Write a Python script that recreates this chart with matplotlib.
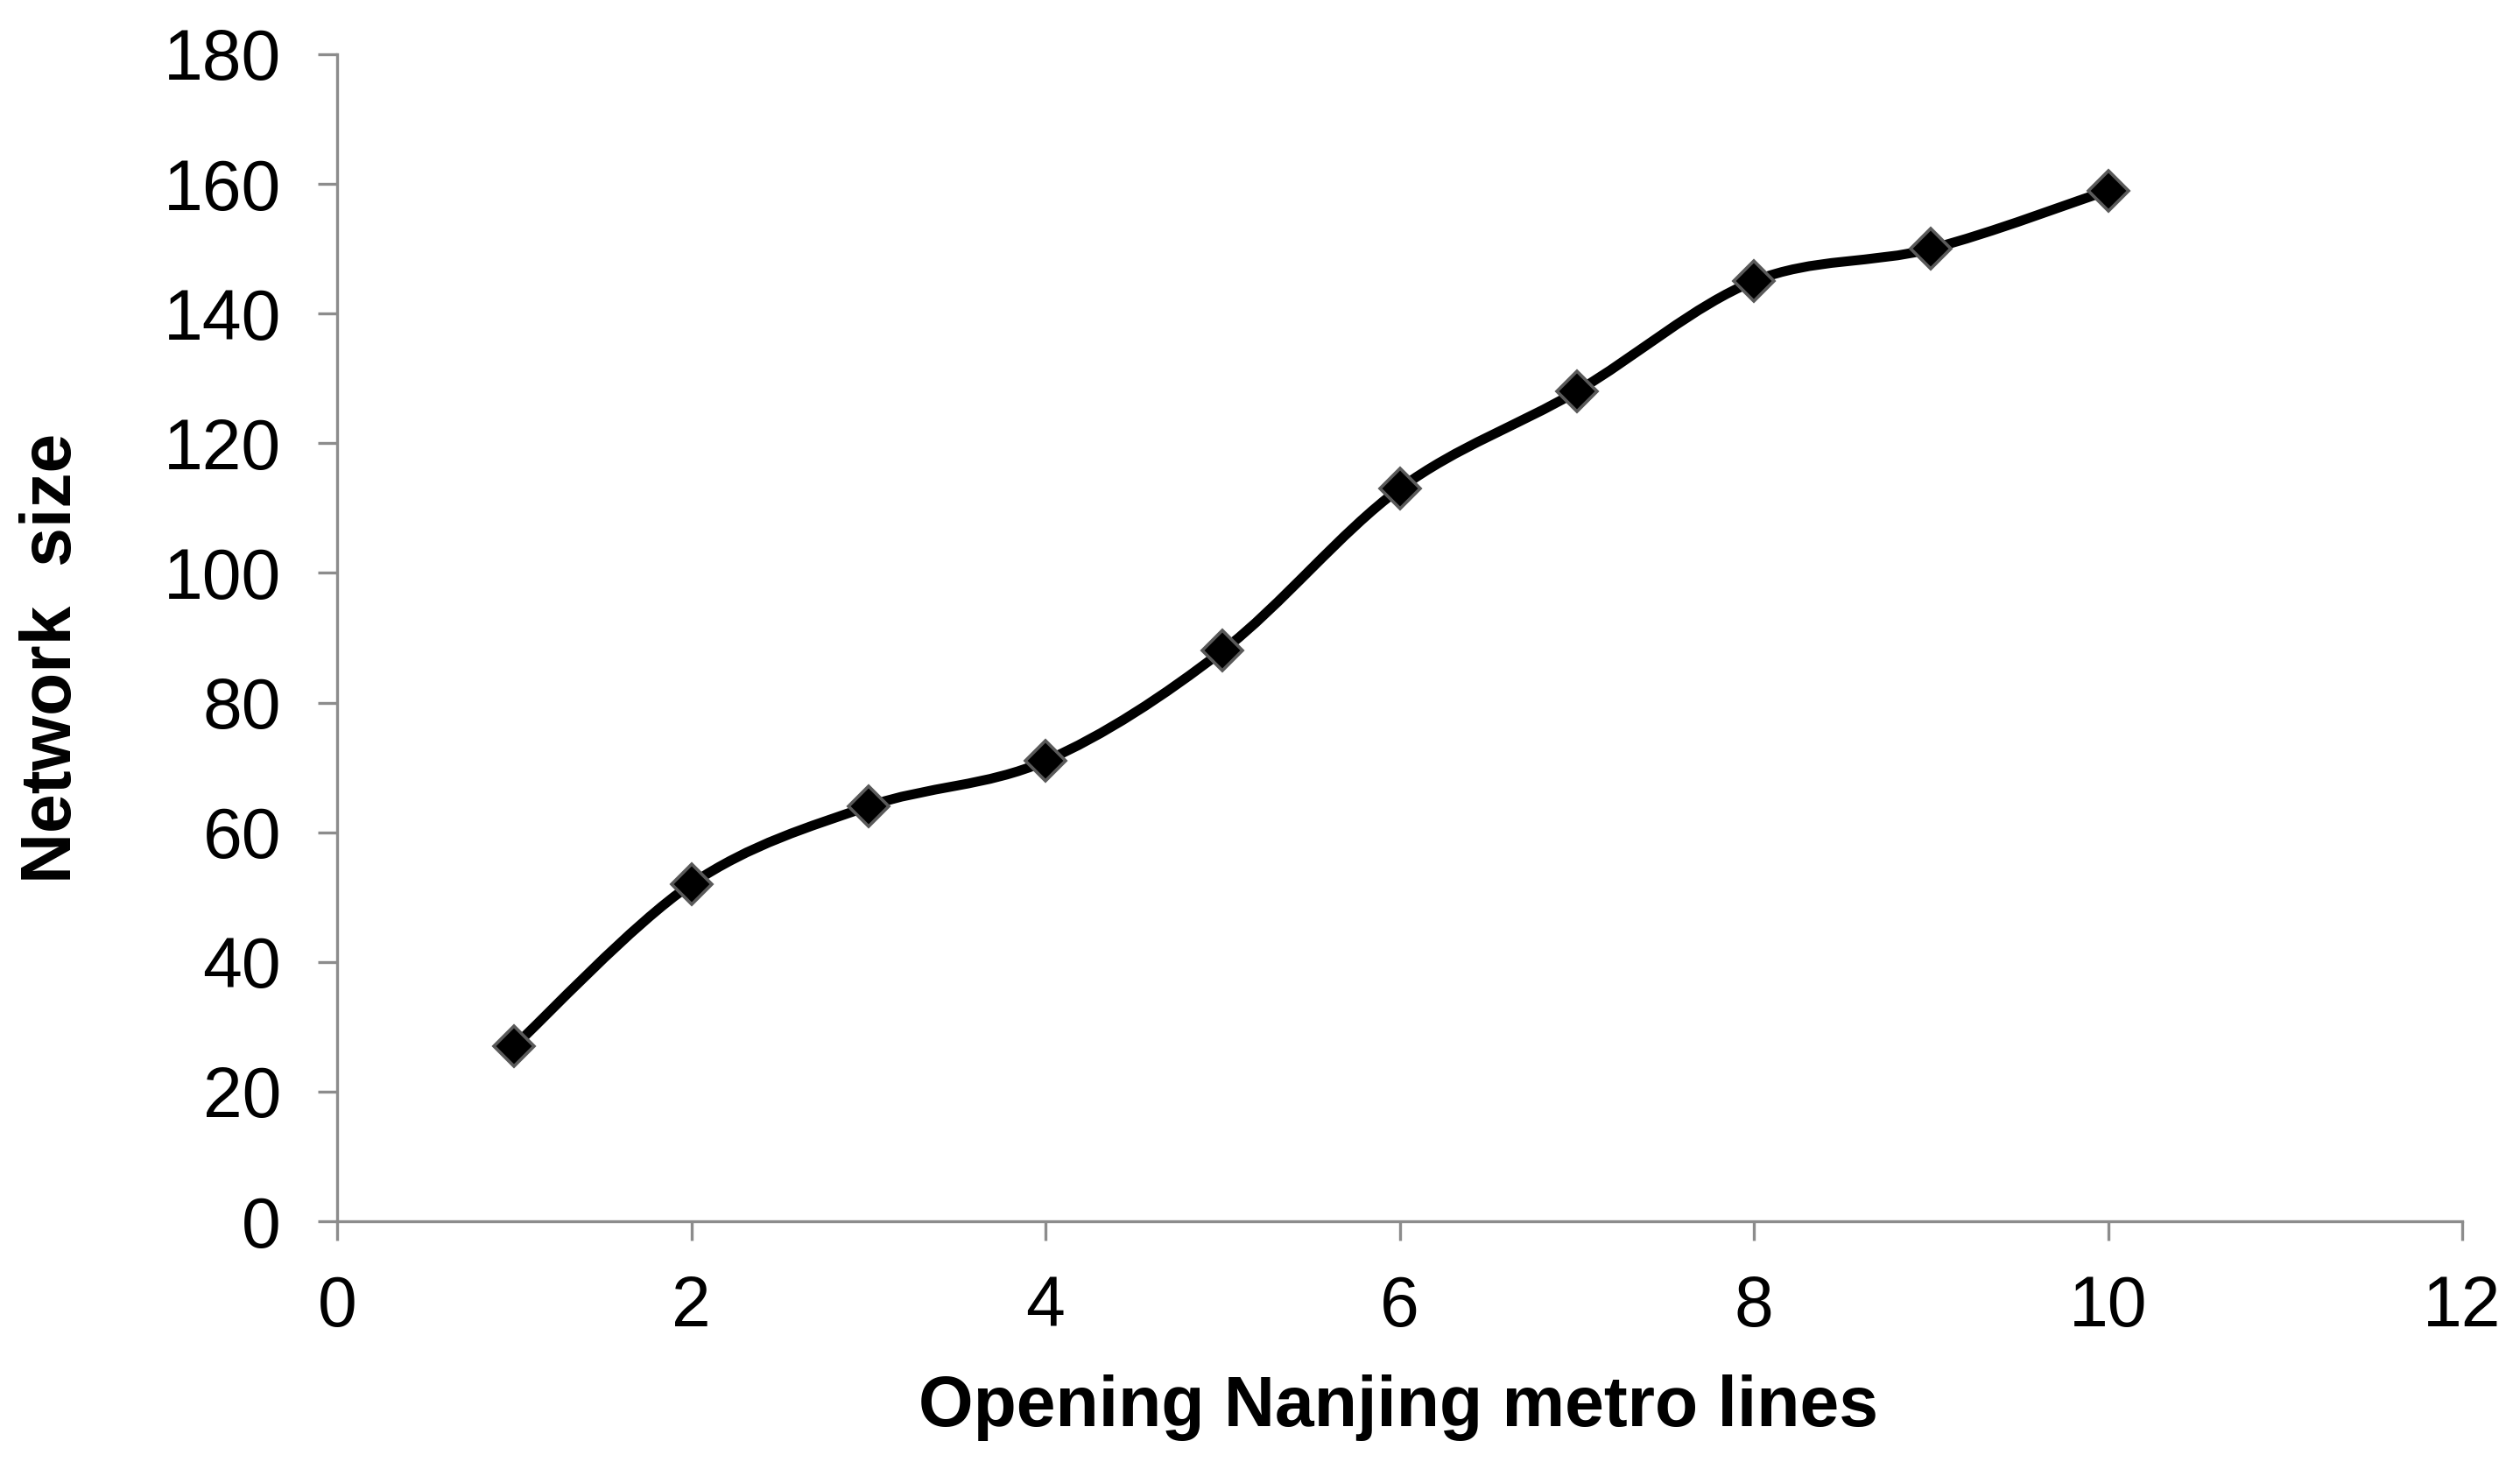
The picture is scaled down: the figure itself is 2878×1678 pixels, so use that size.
import matplotlib
matplotlib.use('Agg')
import matplotlib.pyplot as plt
from matplotlib.path import Path
from matplotlib.patches import PathPatch
import numpy as np

# opened metro lines vs network size
lines_opened = [1, 2, 3, 4, 5, 6, 7, 8, 9, 10]
network_size = [27, 52, 64, 71, 88, 113, 128, 145, 150, 159]
x_ticks = [0, 2, 4, 6, 8, 10, 12]
y_ticks = [0, 20, 40, 60, 80, 100, 120, 140, 160, 180]

plt.rcParams['font.family'] = ['Liberation Sans', 'DejaVu Sans']

fig = plt.figure(figsize=(28.78, 16.78), dpi=100)
ax = fig.add_axes([385 / 2878, 1 - 1395 / 1678, (2812 - 385) / 2878, (1395 - 62) / 1678])

# excel style smoothed line: bezier segments built from neighbouring points
pts = np.column_stack([lines_opened, network_size]).astype(float)
n = len(pts)
verts = [pts[0]]
codes = [Path.MOVETO]
for i in range(n - 1):
    p0 = pts[i - 1] if i > 0 else pts[i]
    p1 = pts[i]
    p2 = pts[i + 1]
    p3 = pts[i + 2] if i + 2 < n else pts[i + 1]
    c1 = p1 + (p2 - p0) / 6.0
    c2 = p2 - (p3 - p1) / 6.0
    verts += [c1, c2, p2]
    codes += [Path.CURVE4] * 3
ax.add_patch(PathPatch(Path(verts, codes), facecolor='none', edgecolor='black',
                       lw=8, capstyle='round', joinstyle='round', zorder=2))
ax.plot(lines_opened, network_size, linestyle='none', marker='D', markersize=23,
        markerfacecolor='black', markeredgecolor='#5a5a5a', markeredgewidth=2.6, zorder=3)

ax.set_xlim(0, 12)
ax.set_ylim(0, 180)
ax.set_xticks(x_ticks)
ax.set_yticks(y_ticks)

grey = '#8c8c8c'
for s in ['top', 'right']:
    ax.spines[s].set_visible(False)
for s in ['left', 'bottom']:
    ax.spines[s].set_color(grey)
    ax.spines[s].set_linewidth(2.4)
ax.tick_params(axis='both', direction='out', length=16, width=2.4, color=grey,
               labelsize=58, labelcolor='black')
ax.tick_params(axis='y', pad=30)
ax.tick_params(axis='x', pad=28)

fig.text(1597 / 2878, 1 - 1608 / 1678, 'Opening Nanjing metro lines', ha='center', va='center',
         fontsize=58, fontweight='bold')
fig.text(60 / 2878, 1 - 752 / 1678, 'Network  size', ha='center', va='center', rotation=90,
         fontsize=58, fontweight='bold')

fig.savefig('out.png', dpi=100, facecolor='white')
